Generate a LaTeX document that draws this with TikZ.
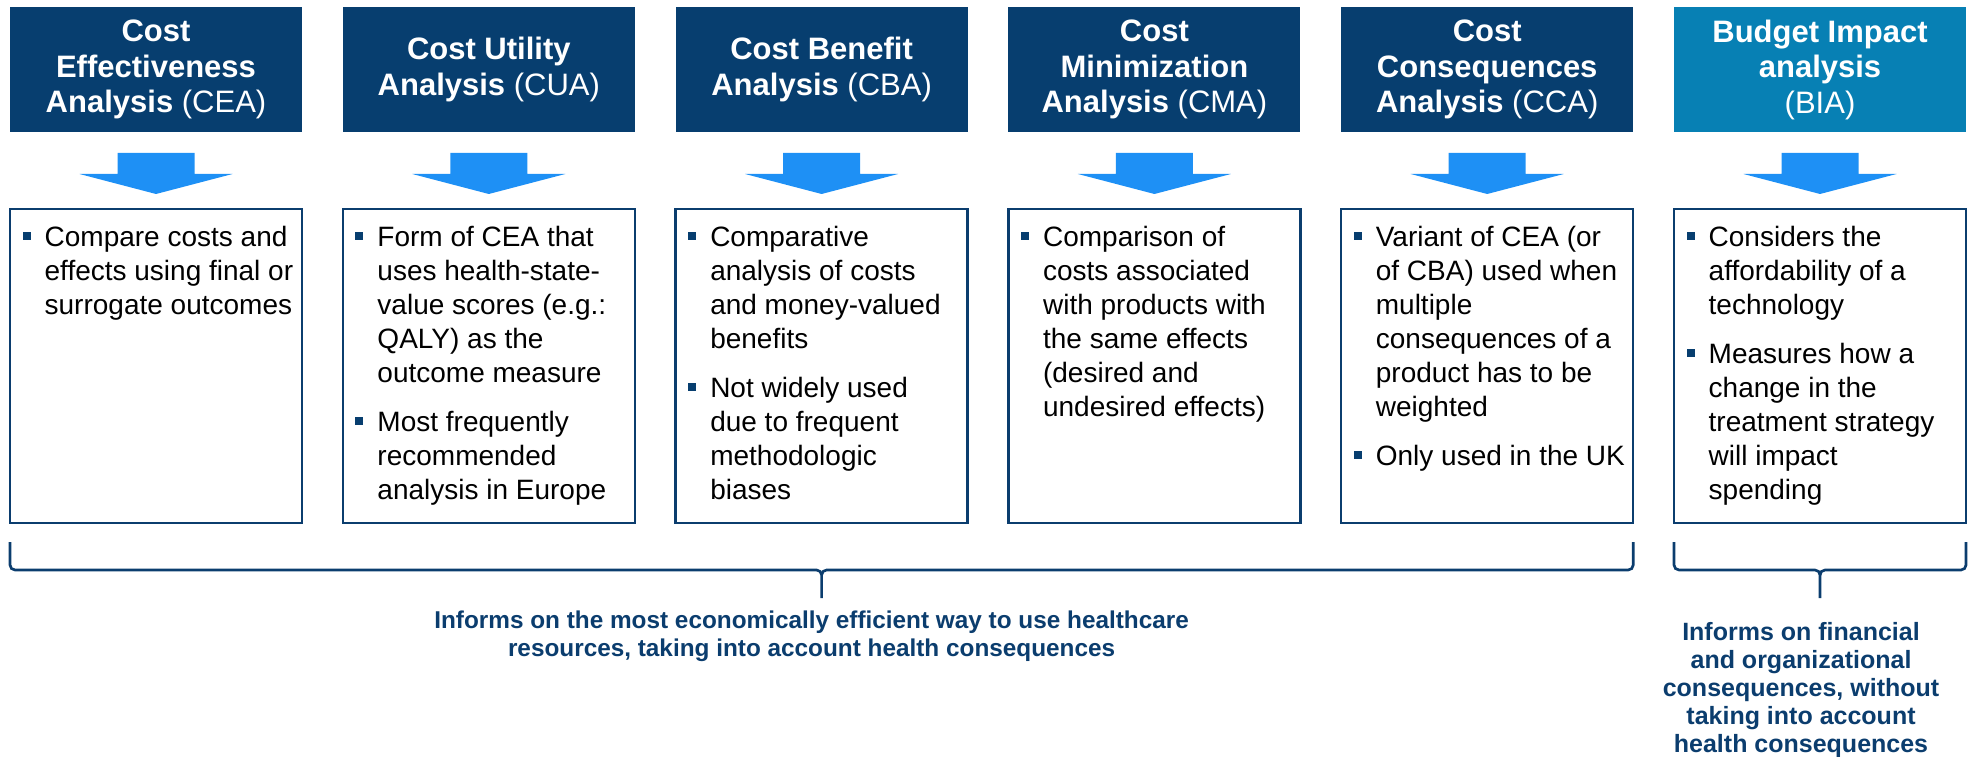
\documentclass[tikz,border=0pt]{standalone}
\usepackage{fontspec}
\setmainfont{Liberation Sans}
\usepackage{tikz}
\usetikzlibrary{positioning,calc}
\definecolor{hcnavy}{HTML}{073E6F}
\definecolor{hcteal}{HTML}{0780B4}
\definecolor{hcarrow}{HTML}{1E90F5}
\definecolor{hcline}{HTML}{0B3D6E}

% small square bullet hung left of the text
\newcommand\bul{\leavevmode\llap{\textcolor{hcnavy}{\rule[2.1pt]{2.4pt}{2.4pt}}\hspace{4.2pt}}}
% stacked lines whose baseline is the first line's
\newcommand\txtcol[2]{\begin{tabular}[t]{@{}#1@{}}#2\end{tabular}}

\begin{document}
\begin{tikzpicture}[
    head/.style={fill=hcnavy, text=white, align=center, minimum width=87.6pt,
                 minimum height=37.5pt, inner sep=0pt, outer sep=0pt,
                 font=\fontsize{9.3}{10.65}\selectfont},
    card/.style={draw=hcline, line width=0.7pt, minimum width=87.6pt,
                 minimum height=94.2pt, inner sep=0pt, outer sep=0pt},
    bullets/.style={anchor=base west, inner sep=0pt,
                    font=\fontsize{8.4}{10.2}\selectfont},
    down/.style={fill=hcarrow},
    brc/.style={draw=hcline, line width=0.8pt},
    note/.style={anchor=base, inner sep=0pt, text=hcline,
                 font=\fontsize{7.3}{8.4}\selectfont\bfseries},
  ]
  \useasboundingbox (0,0) rectangle (591pt,-227.1pt);

  % ---------- method headers ----------
  \node[head, anchor=north west] (h1) at (3pt,-2.1pt)
    {\textbf{Cost}\\\textbf{Effectiveness}\\\textbf{Analysis} (CEA)};
  \node[head, right=12.24pt of h1] (h2) {\textbf{Cost Utility}\\\textbf{Analysis} (CUA)};
  \node[head, right=12.24pt of h2] (h3) {\textbf{Cost Benefit}\\\textbf{Analysis} (CBA)};
  \node[head, right=12.24pt of h3] (h4)
    {\textbf{Cost}\\\textbf{Minimization}\\\textbf{Analysis} (CMA)};
  \node[head, right=12.24pt of h4] (h5)
    {\textbf{Cost}\\\textbf{Consequences}\\\textbf{Analysis} (CCA)};
  \node[head, right=12.24pt of h5, fill=hcteal] (h6)
    {\textbf{Budget Impact}\\\textbf{analysis}\\(BIA)};

  % ---------- description cards ----------
  \foreach \i in {1,...,6}
    \node[card, below=23.1pt of h\i] (c\i) {};

  % ---------- block arrows ----------
  \foreach \i in {1,...,6}
    \fill[down] ([xshift=-11.55pt,yshift=-6.3pt]h\i.south)
      -- ([xshift=11.55pt,yshift=-6.3pt]h\i.south)
      -- ([xshift=11.55pt,yshift=-12.6pt]h\i.south)
      -- ([xshift=22.95pt,yshift=-12.6pt]h\i.south)
      -- ([yshift=-18.6pt]h\i.south)
      -- ([xshift=-22.95pt,yshift=-12.6pt]h\i.south)
      -- ([xshift=-11.55pt,yshift=-12.6pt]h\i.south) -- cycle;

  % ---------- card texts ----------
  \node[bullets] (t1) at ([xshift=10.2pt,yshift=-11.4pt]c1.north west)
    {\txtcol{l}{\bul Compare costs and\\effects using final or\\surrogate outcomes}};
  \node[bullets] (t2) at ([xshift=10.2pt,yshift=-11.4pt]c2.north west)
    {\txtcol{l}{\bul Form of CEA that\\uses health-state-\\value scores (e.g.:\\QALY) as the\\outcome measure\\[4.5pt]
     \bul Most frequently\\recommended\\analysis in Europe}};
  \node[bullets] (t3) at ([xshift=10.2pt,yshift=-11.4pt]c3.north west)
    {\txtcol{l}{\bul Comparative\\analysis of costs\\and money-valued\\benefits\\[4.5pt]
     \bul Not widely used\\due to frequent\\methodologic\\biases}};
  \node[bullets] (t4) at ([xshift=10.2pt,yshift=-11.4pt]c4.north west)
    {\txtcol{l}{\bul Comparison of\\costs associated\\with products with\\the same effects\\(desired and\\undesired effects)}};
  \node[bullets] (t5) at ([xshift=10.2pt,yshift=-11.4pt]c5.north west)
    {\txtcol{l}{\bul Variant of CEA (or\\of CBA) used when\\multiple\\consequences of a\\product has to be\\weighted\\[4.5pt]
     \bul Only used in the UK}};
  \node[bullets] (t6) at ([xshift=10.2pt,yshift=-11.4pt]c6.north west)
    {\txtcol{l}{\bul Considers the\\affordability of a\\technology\\[4.5pt]
     \bul Measures how a\\change in the\\treatment strategy\\will impact\\spending}};

  % ---------- braces ----------
  \coordinate (bl1) at ([yshift=-5.7pt]c1.south west);
  \coordinate (br1) at ([yshift=-5.7pt]c5.south east);
  \coordinate (bm1) at ($(bl1)!0.5!(br1)$);
  \draw[brc] (bl1) -- ++(0,-6.9pt) to[out=-90,in=180] ++(1.5pt,-1.5pt)
    -- ([xshift=-1.5pt,yshift=-8.4pt]bm1) to[out=0,in=90] ++(1.5pt,-1.5pt) -- ++(0,-6.9pt);
  \draw[brc] (br1) -- ++(0,-6.9pt) to[out=-90,in=0] ++(-1.5pt,-1.5pt)
    -- ([xshift=1.5pt,yshift=-8.4pt]bm1) to[out=180,in=90] ++(-1.5pt,-1.5pt);

  \coordinate (bl2) at ([yshift=-5.7pt]c6.south west);
  \coordinate (br2) at ([yshift=-5.7pt]c6.south east);
  \coordinate (bm2) at ($(bl2)!0.5!(br2)$);
  \draw[brc] (bl2) -- ++(0,-6.9pt) to[out=-90,in=180] ++(1.5pt,-1.5pt)
    -- ([xshift=-1.5pt,yshift=-8.4pt]bm2) to[out=0,in=90] ++(1.5pt,-1.5pt) -- ++(0,-6.9pt);
  \draw[brc] (br2) -- ++(0,-6.9pt) to[out=-90,in=0] ++(-1.5pt,-1.5pt)
    -- ([xshift=1.5pt,yshift=-8.4pt]bm2) to[out=180,in=90] ++(-1.5pt,-1.5pt);

  % ---------- conclusions ----------
  \node[note] (n1) at ([xshift=-3pt,yshift=-25.8pt]bm1)
    {\txtcol{c}{Informs on the most economically efficient way to use healthcare\\resources, taking into account health consequences}};
  \node[note, font=\fontsize{7.5}{8.4}\selectfont\bfseries] (n2) at ([xshift=-5.7pt,yshift=-29.4pt]bm2)
    {\txtcol{c}{Informs on financial\\and organizational\\consequences, without\\taking into account\\health consequences}};

\end{tikzpicture}
\end{document}
